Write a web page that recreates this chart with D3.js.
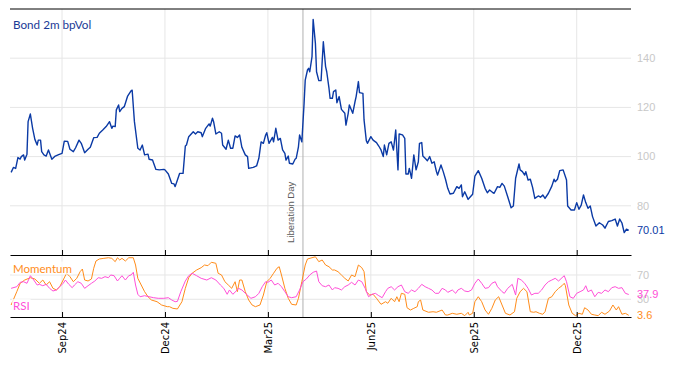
<!DOCTYPE html>
<html>
<head>
<meta charset="utf-8">
<script src="https://cdn.jsdelivr.net/npm/d3@7"></script>
<style>
  body { margin: 0; background: #fff; }
  svg { display: block; }
</style>
</head>
<body>
<div id="chart"></div>
<script>
// Bond 2m bpVol (date, value)
const bvolSeries = [
  ["2024-07-19",93.6],["2024-07-21",95.6],["2024-07-23",95.2],["2024-07-25",99.6],["2024-07-27",99],["2024-07-28",100],
  ["2024-07-30",100.7],["2024-07-31",98.6],["2024-08-02",101],["2024-08-03",114.2],["2024-08-05",117.3],["2024-08-07",111.5],
  ["2024-08-09",107],["2024-08-11",104.7],["2024-08-12",106.7],["2024-08-14",106.7],["2024-08-15",102],["2024-08-17",100.7],
  ["2024-08-19",100.2],["2024-08-21",102.7],["2024-08-24",98.9],["2024-08-27",100.2],["2024-08-30",100.8],["2024-09-02",101.3],
  ["2024-09-04",106.3],["2024-09-07",106.2],["2024-09-09",103],["2024-09-12",102],["2024-09-14",103.6],["2024-09-17",106.7],
  ["2024-09-19",105.4],["2024-09-22",101.6],["2024-09-25",103],["2024-09-27",103.8],["2024-09-30",107.7],["2024-10-03",107.8],
  ["2024-10-05",109.5],["2024-10-08",110.8],["2024-10-11",112.2],["2024-10-14",114.2],["2024-10-16",111.5],["2024-10-17",112.4],
  ["2024-10-19",112.2],["2024-10-20",119],["2024-10-22",121],["2024-10-23",118.3],["2024-10-25",119.6],["2024-10-27",120.3],
  ["2024-10-28",121.7],["2024-10-30",124.6],["2024-11-02",126.7],["2024-11-03",127],["2024-11-05",114.2],["2024-11-08",103.4],
  ["2024-11-10",102.7],["2024-11-12",104.7],["2024-11-14",100.7],["2024-11-17",101],["2024-11-18",98.9],["2024-11-21",98.6],
  ["2024-11-24",94.8],["2024-11-27",94.6],["2024-12-01",94.8],["2024-12-02",94.6],["2024-12-05",92.9],["2024-12-08",89.1],
  ["2024-12-10",88.9],["2024-12-11",87.8],["2024-12-13",90.5],["2024-12-15",93.2],["2024-12-18",93.2],["2024-12-20",104.3],
  ["2024-12-21",104.7],["2024-12-23",108.1],["2024-12-27",110.1],["2024-12-29",109.2],["2024-12-31",110.1],["2025-01-03",109.7],
  ["2025-01-04",108.1],["2025-01-07",111.5],["2025-01-10",113.3],["2025-01-11",112.4],["2025-01-13",115.6],["2025-01-14",114.2],
  ["2025-01-16",109.2],["2025-01-19",110.1],["2025-01-21",109.5],["2025-01-22",104.7],["2025-01-25",103],["2025-01-27",106.7],
  ["2025-01-29",103.4],["2025-01-31",103.4],["2025-02-02",108.4],["2025-02-04",107.8],["2025-02-06",108.8],["2025-02-08",103.8],
  ["2025-02-11",100.7],["2025-02-13",100],["2025-02-14",95.2],["2025-02-18",95.6],["2025-02-21",96.2],["2025-02-23",99.3],
  ["2025-02-25",106],["2025-02-27",105.4],["2025-03-01",108.8],["2025-03-02",109.7],["2025-03-04",105.4],["2025-03-07",107.8],
  ["2025-03-08",106],["2025-03-10",111.5],["2025-03-12",106.7],["2025-03-14",107.4],["2025-03-16",102.7],["2025-03-18",101.3],
  ["2025-03-19",98.6],["2025-03-21",100.2],["2025-03-22",97.3],["2025-03-25",97],["2025-03-27",98.9],["2025-03-28",99.3],
  ["2025-03-30",104],["2025-03-31",108.8],["2025-04-02",106],["2025-04-04",121.7],["2025-04-05",131.1],["2025-04-07",135.2],
  ["2025-04-08",135.9],["2025-04-09",134.5],["2025-04-11",140.6],["2025-04-12",155.8],["2025-04-14",146],["2025-04-15",134.5],
  ["2025-04-17",130.9],["2025-04-19",130.9],["2025-04-21",146.7],["2025-04-23",136.6],["2025-04-24",134.5],["2025-04-26",127.8],
  ["2025-04-27",123.7],["2025-04-29",123.7],["2025-04-30",126.4],["2025-05-02",127.1],["2025-05-03",121.9],["2025-05-05",124.4],
  ["2025-05-06",121.7],["2025-05-07",119.2],["2025-05-10",117.6],["2025-05-11",112.8],["2025-05-13",117.6],["2025-05-14",121],
  ["2025-05-17",117.6],["2025-05-19",122.3],["2025-05-20",124.4],["2025-05-22",130.5],["2025-05-23",126],["2025-05-26",125.7],
  ["2025-05-27",114.9],["2025-05-29",106.5],["2025-05-30",105.4],["2025-06-02",108.1],["2025-06-04",106.7],["2025-06-07",105.7],
  ["2025-06-09",104.3],["2025-06-11",102.7],["2025-06-13",100],["2025-06-14",104.7],["2025-06-16",100.7],["2025-06-18",105.4],
  ["2025-06-20",106],["2025-06-22",102.7],["2025-06-24",110.8],["2025-06-26",94.6],["2025-06-27",109.2],["2025-06-30",108.8],
  ["2025-07-02",107.4],["2025-07-03",92.9],["2025-07-05",92.9],["2025-07-06",95.2],["2025-07-08",91.2],["2025-07-10",100.7],
  ["2025-07-12",94.6],["2025-07-14",97.9],["2025-07-15",105.4],["2025-07-17",105.7],["2025-07-18",100.2],["2025-07-20",99.3],
  ["2025-07-22",98.3],["2025-07-24",100],["2025-07-26",97.3],["2025-07-28",97.9],["2025-07-30",93.9],["2025-07-31",92.5],
  ["2025-08-03",96.6],["2025-08-05",93.9],["2025-08-07",90.8],["2025-08-09",87.1],["2025-08-11",84.8],["2025-08-14",85.1],
  ["2025-08-17",87.8],["2025-08-19",87.1],["2025-08-21",88.5],["2025-08-22",83.7],["2025-08-24",85.7],["2025-08-27",82.6],
  ["2025-08-29",83.7],["2025-08-31",84.7],["2025-09-02",92.1],["2025-09-05",94.3],["2025-09-08",91.2],["2025-09-11",87.1],
  ["2025-09-13",85.3],["2025-09-15",86.4],["2025-09-18",85.3],["2025-09-19",85.1],["2025-09-22",87.8],["2025-09-24",87.5],
  ["2025-09-26",89.1],["2025-09-28",88],["2025-10-01",83.7],["2025-10-04",79.2],["2025-10-06",79.9],["2025-10-08",91.2],
  ["2025-10-11",97],["2025-10-12",94.6],["2025-10-14",93.9],["2025-10-16",92.5],["2025-10-17",93.9],["2025-10-19",90.5],
  ["2025-10-21",90.8],["2025-10-23",87.5],["2025-10-25",83],["2025-10-28",84],["2025-10-30",83.5],["2025-11-01",84.4],
  ["2025-11-03",83],["2025-11-06",85.1],["2025-11-09",88],["2025-11-11",90.8],["2025-11-12",89.8],["2025-11-14",90.8],
  ["2025-11-16",94.3],["2025-11-19",94.6],["2025-11-22",90.5],["2025-11-23",79.9],["2025-11-26",78.3],["2025-11-29",78.3],
  ["2025-12-01",81.3],["2025-12-03",78.6],["2025-12-05",80.3],["2025-12-07",84.4],["2025-12-09",81.3],["2025-12-11",79],
  ["2025-12-13",79.9],["2025-12-15",75.6],["2025-12-18",71.8],["2025-12-21",73.1],["2025-12-24",72.2],["2025-12-26",70.9],
  ["2025-12-29",73.6],["2026-01-01",74],["2026-01-04",74.6],["2026-01-06",71.8],["2026-01-08",74.6],["2026-01-10",73],
  ["2026-01-12",69.1],["2026-01-14",70.5],["2026-01-16",70.01]
];

// Momentum (0-100)
const momentumSeries = [
  ["2024-07-19",20.6],["2024-07-24",42.5],["2024-07-27",56.3],["2024-07-31",61.7],["2024-08-05",65.5],["2024-08-09",63.4],
  ["2024-08-13",56.3],["2024-08-16",61.7],["2024-08-19",53.5],["2024-08-22",58.9],["2024-08-25",48],["2024-08-28",45.3],
  ["2024-08-31",50.7],["2024-09-03",61.7],["2024-09-06",72.8],["2024-09-09",67.2],["2024-09-12",58.9],["2024-09-15",64.5],
  ["2024-09-18",75.4],["2024-09-20",79.8],["2024-09-22",61.7],["2024-09-25",60.1],["2024-09-28",63.4],["2024-09-30",81],
  ["2024-10-02",93],["2024-10-05",96.3],["2024-10-09",97.4],["2024-10-13",98.4],["2024-10-16",97.4],["2024-10-19",91.9],
  ["2024-10-21",98.4],["2024-10-23",94.7],["2024-10-25",97.4],["2024-10-28",93],["2024-10-31",98.4],["2024-11-04",98.4],
  ["2024-11-06",86.4],["2024-11-08",64.5],["2024-11-11",53.5],["2024-11-14",42.5],["2024-11-17",34.2],["2024-11-20",28.8],
  ["2024-11-25",26],["2024-11-29",20.6],["2024-12-04",17.8],["2024-12-06",17.8],["2024-12-09",15.1],["2024-12-13",14],
  ["2024-12-17",26],["2024-12-20",48],["2024-12-23",65.5],["2024-12-26",72.8],["2024-12-30",78.2],["2025-01-03",82],
  ["2025-01-06",86.4],["2025-01-09",85.3],["2025-01-12",90.9],["2025-01-16",89.2],["2025-01-18",72.8],["2025-01-21",70],
  ["2025-01-24",58.9],["2025-01-27",53.5],["2025-01-30",48],["2025-02-02",58.9],["2025-02-04",42.5],["2025-02-06",61.7],
  ["2025-02-08",61.7],["2025-02-11",42.5],["2025-02-14",28.8],["2025-02-17",20.6],["2025-02-20",17.8],["2025-02-24",20.6],
  ["2025-02-27",37],["2025-03-02",58.9],["2025-03-05",64.5],["2025-03-08",72.8],["2025-03-11",81],["2025-03-13",83.6],
  ["2025-03-15",70],["2025-03-18",48],["2025-03-21",31.6],["2025-03-24",21.7],["2025-03-28",20.6],["2025-03-30",31.6],
  ["2025-04-02",58.9],["2025-04-05",86.4],["2025-04-07",96.3],["2025-04-11",98.4],["2025-04-14",100],["2025-04-17",91.9],
  ["2025-04-20",94.7],["2025-04-23",86.4],["2025-04-26",83.6],["2025-04-29",78.2],["2025-05-01",78.2],["2025-05-04",75.4],
  ["2025-05-07",70],["2025-05-10",64.5],["2025-05-13",60.1],["2025-05-16",70],["2025-05-19",67.2],["2025-05-22",86.4],
  ["2025-05-25",82],["2025-05-27",75.4],["2025-05-29",42.5],["2025-06-01",37],["2025-06-04",38.2],["2025-06-07",31.6],
  ["2025-06-11",21.7],["2025-06-15",26],["2025-06-17",23.4],["2025-06-20",31.6],["2025-06-23",26],["2025-06-25",34.2],
  ["2025-06-27",26],["2025-06-29",39.8],["2025-07-02",38.2],["2025-07-04",16.1],["2025-07-07",12.3],["2025-07-10",15.1],
  ["2025-07-13",17.8],["2025-07-14",26],["2025-07-16",28.8],["2025-07-18",12.3],["2025-07-23",8.6],["2025-07-27",9.5],
  ["2025-07-30",8.6],["2025-08-04",12.3],["2025-08-07",4.1],["2025-08-09",4.1],["2025-08-13",6.9],["2025-08-17",5.3],
  ["2025-08-21",6.9],["2025-08-24",3],["2025-08-27",8.6],["2025-08-28",4.1],["2025-08-31",6.9],["2025-09-02",26],
  ["2025-09-05",34.2],["2025-09-08",26],["2025-09-11",12.3],["2025-09-14",5.3],["2025-09-17",15.1],["2025-09-20",28.8],
  ["2025-09-23",34.2],["2025-09-26",20.6],["2025-09-29",6.9],["2025-10-03",4.1],["2025-10-07",9.5],["2025-10-09",31.6],
  ["2025-10-12",42.5],["2025-10-15",48],["2025-10-18",42.5],["2025-10-21",9.5],["2025-10-24",8.6],["2025-10-26",9.5],
  ["2025-10-29",6.9],["2025-11-01",5.3],["2025-11-03",9.5],["2025-11-06",31.6],["2025-11-09",34.2],["2025-11-12",42.5],
  ["2025-11-15",48],["2025-11-18",52.3],["2025-11-20",56.3],["2025-11-21",52.3],["2025-11-24",20.6],["2025-11-27",6.9],
  ["2025-11-30",3],["2025-12-03",6.9],["2025-12-06",5.3],["2025-12-08",16.1],["2025-12-11",12.3],["2025-12-14",5.3],
  ["2025-12-17",4.1],["2025-12-20",3],["2025-12-23",8.6],["2025-12-26",5.3],["2025-12-30",10.7],["2026-01-02",20.6],
  ["2026-01-05",12.3],["2026-01-07",17.8],["2026-01-10",5.3],["2026-01-13",6.9],["2026-01-16",3.6]
];

// RSI (0-100)
const rsiSeries = [
  ["2024-07-19",48],["2024-07-24",50.7],["2024-07-27",57.9],["2024-07-30",58.9],["2024-08-02",56.3],["2024-08-05",68.8],
  ["2024-08-08",61.7],["2024-08-11",53.5],["2024-08-13",54.6],["2024-08-16",52.3],["2024-08-19",54.6],["2024-08-22",48],
  ["2024-08-25",43.6],["2024-08-28",45.3],["2024-08-31",50.7],["2024-09-03",56.3],["2024-09-05",61.7],["2024-09-08",54.6],
  ["2024-09-11",49.1],["2024-09-13",53.5],["2024-09-16",58.9],["2024-09-19",56.3],["2024-09-22",48],["2024-09-25",52.3],
  ["2024-09-28",56.3],["2024-10-01",60.1],["2024-10-04",65.5],["2024-10-07",64.5],["2024-10-10",67.2],["2024-10-13",65.5],
  ["2024-10-15",70],["2024-10-18",68.8],["2024-10-21",60.1],["2024-10-23",64.5],["2024-10-25",68.8],["2024-10-28",61.7],
  ["2024-10-31",68.8],["2024-11-02",70],["2024-11-04",74.4],["2024-11-06",53.5],["2024-11-08",38.2],["2024-11-10",34.2],
  ["2024-11-14",35.9],["2024-11-18",34.2],["2024-11-22",32.6],["2024-11-26",31.6],["2024-12-01",31.6],["2024-12-05",32.6],
  ["2024-12-08",28.8],["2024-12-11",26],["2024-12-13",26.5],["2024-12-16",42.5],["2024-12-20",60.1],["2024-12-23",68.8],
  ["2024-12-26",72.8],["2024-12-30",68.8],["2025-01-03",64.5],["2025-01-08",61.7],["2025-01-12",65.5],["2025-01-16",61.7],
  ["2025-01-20",53.5],["2025-01-23",48],["2025-01-26",38.2],["2025-01-28",45.3],["2025-01-31",38.2],["2025-02-03",43.6],
  ["2025-02-05",48],["2025-02-08",45.3],["2025-02-12",38.2],["2025-02-16",31.6],["2025-02-20",34.2],["2025-02-23",39.8],
  ["2025-02-26",50.7],["2025-03-01",58.9],["2025-03-03",57.9],["2025-03-06",61.7],["2025-03-09",53.5],["2025-03-12",56.3],
  ["2025-03-15",50.7],["2025-03-18",42.5],["2025-03-21",34.2],["2025-03-24",32.6],["2025-03-28",34.2],["2025-03-31",45.3],
  ["2025-04-03",58.9],["2025-04-06",63.4],["2025-04-09",70],["2025-04-12",74.4],["2025-04-15",76.5],["2025-04-17",58.9],
  ["2025-04-20",52.3],["2025-04-23",50.7],["2025-04-26",53.5],["2025-04-29",45.3],["2025-05-01",49.1],["2025-05-04",48],
  ["2025-05-07",45.3],["2025-05-10",50.7],["2025-05-13",53.5],["2025-05-16",57.9],["2025-05-19",53.5],["2025-05-22",61.7],
  ["2025-05-25",58.9],["2025-05-28",48],["2025-05-31",34.2],["2025-06-03",38.2],["2025-06-06",39.8],["2025-06-09",35.9],
  ["2025-06-12",32.6],["2025-06-15",42.5],["2025-06-17",48],["2025-06-20",50.7],["2025-06-23",45.3],["2025-06-26",50.7],
  ["2025-06-29",53.5],["2025-07-02",42.5],["2025-07-05",39.8],["2025-07-08",45.3],["2025-07-11",42.5],["2025-07-14",48],
  ["2025-07-17",54.6],["2025-07-20",50.7],["2025-07-23",48],["2025-07-26",45.3],["2025-07-29",39.8],["2025-08-01",39.8],
  ["2025-08-04",48],["2025-08-07",45.3],["2025-08-09",41.4],["2025-08-13",45.3],["2025-08-16",39.8],["2025-08-18",45.3],
  ["2025-08-21",48],["2025-08-24",43.6],["2025-08-27",42.5],["2025-08-30",45.3],["2025-09-02",56.3],["2025-09-05",63.4],
  ["2025-09-08",56.3],["2025-09-11",48],["2025-09-14",49.1],["2025-09-17",56.3],["2025-09-20",58.9],["2025-09-22",50.7],
  ["2025-09-26",42.5],["2025-09-28",39.8],["2025-10-01",48],["2025-10-05",54.6],["2025-10-08",37],["2025-10-10",64.5],
  ["2025-10-13",61.7],["2025-10-16",56.3],["2025-10-19",48],["2025-10-22",37],["2025-10-25",39.8],["2025-10-28",39.8],
  ["2025-10-31",45.3],["2025-11-03",53.5],["2025-11-06",58.9],["2025-11-09",61.7],["2025-11-12",64.5],["2025-11-15",60.1],
  ["2025-11-18",65.5],["2025-11-20",68.8],["2025-11-22",58.9],["2025-11-25",34.2],["2025-11-28",31.6],["2025-12-01",39.8],
  ["2025-12-04",42.5],["2025-12-07",45.3],["2025-12-09",52.3],["2025-12-11",42.5],["2025-12-14",45.3],["2025-12-17",34.2],
  ["2025-12-20",41.4],["2025-12-23",39.8],["2025-12-26",45.3],["2025-12-29",42.5],["2026-01-01",49.1],["2026-01-04",50.7],
  ["2026-01-07",48],["2026-01-10",49.1],["2026-01-13",39.8],["2026-01-16",37.9]
];

const tickDates = ["2024-09-02","2024-12-02","2025-03-03","2025-06-02","2025-09-01","2025-12-01"];
const tickLabels = ["Sep24","Dec24","Mar25","Jun25","Sep25","Dec25"];
const bvolTicks = [80, 100, 120, 140];
const oscTicks = [30, 70];
const eventDate = "2025-04-03";
const eventLabel = "Liberation Day";

const W = 674, H = 366;
const left = 10, right = 631;
const topY = 9, midY = 255, botY = 317;

const parse = d3.timeParse("%Y-%m-%d");
const bvol = bvolSeries.map(d => ({date: parse(d[0]), value: d[1]}));
const mom = momentumSeries.map(d => ({date: parse(d[0]), value: d[1]}));
const rsi = rsiSeries.map(d => ({date: parse(d[0]), value: d[1]}));
const ticks = tickDates.map(parse);

const colBvol = "#0b3aa5", colMom = "#ff8c1a", colRsi = "#ff4fd8";
const gridCol = "#e6e6e6", labelCol = "#c8c8c8";

const svg = d3.select("#chart").append("svg")
  .attr("width", W).attr("height", H)
  .style("font-family", "'Liberation Sans', Arial, sans-serif");

const x = d3.scaleTime()
  .domain([parse("2024-07-18"), parse("2026-01-18")])
  .range([left, right]);
const yTop = d3.scaleLinear().domain([60, 160]).range([midY, topY]);
const yOsc = d3.scaleLinear().domain([0, 100]).range([317.5, 256.75]);

// gridlines
const grid = svg.append("g");
grid.selectAll(".hg1").data(bvolTicks).enter().append("line")
  .attr("x1", left).attr("x2", right)
  .attr("y1", d => yTop(d)).attr("y2", d => yTop(d))
  .attr("stroke", gridCol);
grid.selectAll(".hg2").data(oscTicks).enter().append("line")
  .attr("x1", left).attr("x2", right)
  .attr("y1", d => yOsc(d)).attr("y2", d => yOsc(d))
  .attr("stroke", gridCol);
grid.selectAll(".vg").data(ticks).enter().append("line")
  .attr("x1", d => x(d)).attr("x2", d => x(d))
  .attr("y1", topY).attr("y2", botY)
  .attr("stroke", gridCol);

// event marker
const ex = x(parse(eventDate));
svg.append("line")
  .attr("x1", ex).attr("x2", ex).attr("y1", topY).attr("y2", botY)
  .attr("stroke", "#b0b0b0").attr("stroke-width", 1);
svg.append("text")
  .attr("transform", `translate(${ex - 9},243) rotate(-90)`)
  .attr("font-size", 9.5).attr("fill", "#5a5a5a")
  .text(eventLabel);

// series
const lineTop = d3.line().x(d => x(d.date)).y(d => yTop(d.value));
const lineOsc = d3.line().x(d => x(d.date)).y(d => yOsc(d.value));

svg.append("path").datum(bvol)
  .attr("d", lineTop).attr("fill", "none")
  .attr("stroke", colBvol).attr("stroke-width", 1.4).attr("stroke-linejoin", "round");
svg.append("path").datum(mom)
  .attr("d", lineOsc).attr("fill", "none")
  .attr("stroke", colMom).attr("stroke-width", 1).attr("stroke-linejoin", "round");
svg.append("path").datum(rsi)
  .attr("d", lineOsc).attr("fill", "none")
  .attr("stroke", colRsi).attr("stroke-width", 1).attr("stroke-linejoin", "round");

// legend labels inside lower panel
const legend = [
  {name: "Momentum", color: colMom, y: 272.5},
  {name: "RSI", color: colRsi, y: 310}
];
legend.forEach(l => {
  const t = svg.append("text")
    .attr("x", 13).attr("y", l.y)
    .attr("font-family", "Lato, 'Open Sans', sans-serif")
    .attr("font-size", 11.5).attr("fill", l.color)
    .text(l.name);
  const bb = t.node().getBBox();
  svg.insert("rect", () => t.node())
    .attr("x", bb.x - 1).attr("y", bb.y)
    .attr("width", bb.width + 2).attr("height", bb.height)
    .attr("fill", "#fff").attr("opacity", 0.75);
});

// title
svg.append("text")
  .attr("x", 13).attr("y", 29)
  .attr("font-family", "Lato, 'Open Sans', sans-serif")
  .attr("font-size", 11.7).attr("fill", "#1a3a96")
  .text("Bond 2m bpVol");

// frame lines with inward ticks
svg.append("line").attr("x1", left).attr("x2", right)
  .attr("y1", topY).attr("y2", topY).attr("stroke", "#000");
[midY, botY].forEach(yy => {
  svg.append("g")
    .attr("transform", `translate(0,${yy})`)
    .call(d3.axisTop(x).tickValues(ticks).tickSizeInner(5).tickSizeOuter(0).tickFormat(""))
    .call(g => g.selectAll("line, path").attr("stroke", "#000"));
});

// x labels
svg.append("g")
  .attr("transform", `translate(0,${botY})`)
  .call(d3.axisBottom(x).tickValues(ticks).tickSize(0).tickFormat((d, i) => tickLabels[i]))
  .call(g => g.select(".domain").remove())
  .call(g => g.selectAll("text")
    .attr("transform", "rotate(-90)")
    .attr("x", -5).attr("y", 0).attr("dy", "0.35em")
    .attr("text-anchor", "end")
    .attr("font-family", "'DejaVu Sans', sans-serif")
    .attr("font-size", 10).attr("fill", "#000"));

// right axis labels
const rightX = 637;
svg.selectAll(".ty").data(bvolTicks).enter().append("text")
  .attr("x", rightX).attr("y", d => yTop(d)).attr("dy", "0.35em")
  .attr("font-size", 11).attr("fill", labelCol).text(d => d);
svg.selectAll(".oy").data(oscTicks).enter().append("text")
  .attr("x", rightX).attr("y", d => yOsc(d)).attr("dy", "0.35em")
  .attr("font-size", 11).attr("fill", labelCol).text(d => d);

// last value labels
const lastB = bvol[bvol.length - 1], lastM = mom[mom.length - 1], lastR = rsi[rsi.length - 1];
svg.append("text").attr("x", rightX).attr("y", yTop(lastB.value)).attr("dy", "0.35em")
  .attr("font-size", 11).attr("fill", colBvol).text(lastB.value.toFixed(2));
svg.append("text").attr("x", rightX).attr("y", yOsc(lastR.value)).attr("dy", "0.35em")
  .attr("font-size", 11).attr("fill", colRsi).text(lastR.value.toFixed(1));
svg.append("text").attr("x", rightX).attr("y", yOsc(lastM.value)).attr("dy", "0.35em")
  .attr("font-size", 11).attr("fill", colMom).text(lastM.value.toFixed(1));
</script>
</body>
</html>
